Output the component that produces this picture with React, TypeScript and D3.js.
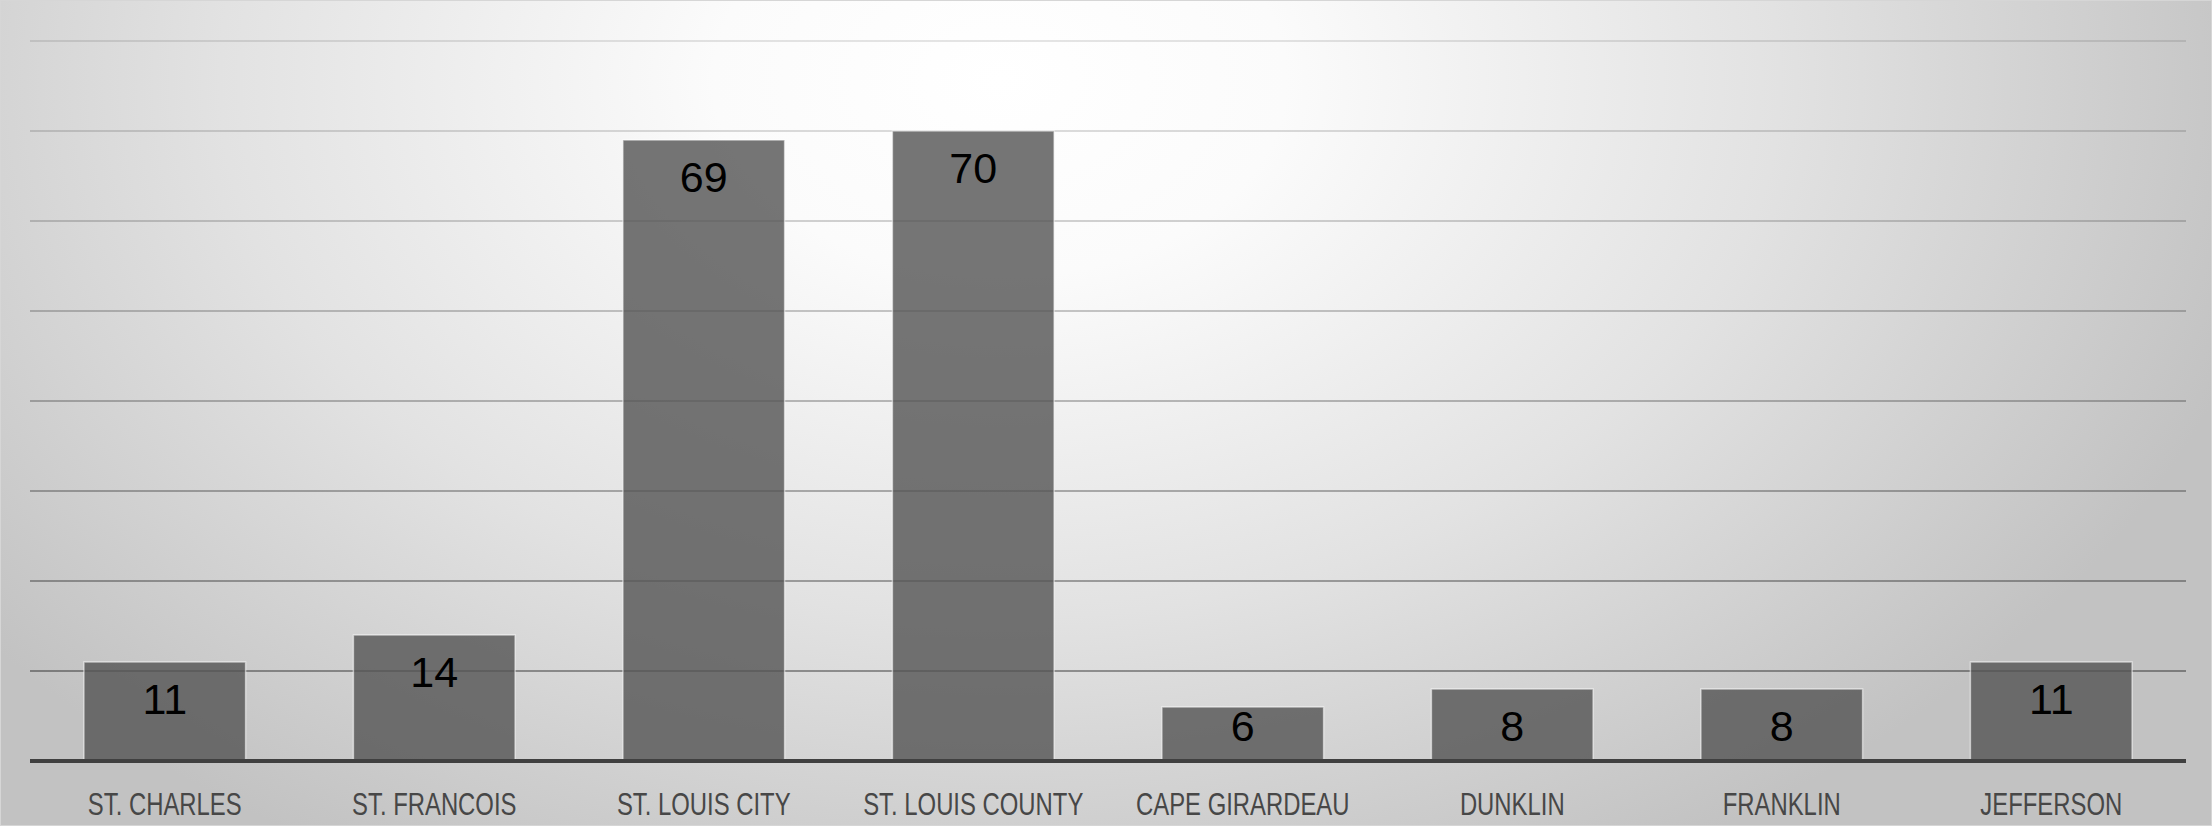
import React from "react";
import * as d3 from "d3";

const categories = [
  "ST. CHARLES",
  "ST. FRANCOIS",
  "ST. LOUIS CITY",
  "ST. LOUIS COUNTY",
  "CAPE GIRARDEAU",
  "DUNKLIN",
  "FRANKLIN",
  "JEFFERSON",
];
const values = [11, 14, 69, 70, 6, 8, 8, 11];
const gridTicks = [10, 20, 30, 40, 50, 60, 70, 80];

const W = 2212;
const H = 826;
const margin = { left: 30, right: 26, top: 41, bottom: 65 };

export default function App() {
  const x = d3
    .scaleBand<string>()
    .domain(categories)
    .range([margin.left, W - margin.right])
    .paddingInner(0.4)
    .paddingOuter(0.2);
  const y = d3
    .scaleLinear()
    .domain([0, 80])
    .range([H - margin.bottom, margin.top]);
  const gridAlpha = d3.scaleLinear().domain([80, 10]).range([0.1, 0.36]);
  const base = y(0);

  return (
    <svg
      width={W}
      height={H}
      style={{ position: "absolute", left: 0, top: 0, display: "block" }}
      fontFamily="'Liberation Sans', Arial, sans-serif"
    >
      <defs>
        <radialGradient
          id="bg"
          gradientUnits="userSpaceOnUse"
          cx={1000}
          cy={80}
          r={1300}
          gradientTransform="translate(1000,80) scale(1,0.69) translate(-1000,-80)"
        >
          <stop offset="0" stopColor="#ffffff" />
          <stop offset="0.22" stopColor="#fbfbfb" />
          <stop offset="0.6" stopColor="#e2e2e2" />
          <stop offset="1" stopColor="#c2c2c2" />
        </radialGradient>
      </defs>
      <rect x={0} y={0} width={W} height={H} fill="url(#bg)" />
      <rect
        x={0.5}
        y={0.5}
        width={W - 1}
        height={H - 1}
        fill="none"
        stroke="#d6d6d6"
        strokeWidth={1}
      />
      {gridTicks.map((t) => (
        <line
          key={t}
          x1={margin.left}
          x2={W - margin.right}
          y1={y(t)}
          y2={y(t)}
          stroke="#000"
          strokeOpacity={gridAlpha(t)}
          strokeWidth={2}
        />
      ))}
      {categories.map((c, i) => (
        <rect
          key={c}
          x={x(c)!}
          y={y(values[i])}
          width={x.bandwidth()}
          height={base - y(values[i])}
          fill="#555555"
          fillOpacity={0.81}
          stroke="#ffffff"
          strokeOpacity={0.55}
          strokeWidth={1.5}
        />
      ))}
      <line
        x1={margin.left}
        x2={W - margin.right}
        y1={base}
        y2={base}
        stroke="#404040"
        strokeWidth={4}
      />
      {categories.map((c, i) => {
        const cx = x(c)! + x.bandwidth() / 2;
        const ly = Math.min(y(values[i]) + 52, base - 20);
        return (
          <text
            key={"v" + c}
            x={cx}
            y={ly}
            textAnchor="middle"
            fontSize={43}
            fill="#000"
          >
            {values[i]}
          </text>
        );
      })}
      {categories.map((c) => {
        const cx = x(c)! + x.bandwidth() / 2;
        return (
          <g key={"c" + c} transform={`translate(${cx},815) scale(0.77,1)`}>
            <text x={0} y={0} textAnchor="middle" fontSize={31} fill="#474747">
              {c}
            </text>
          </g>
        );
      })}
    </svg>
  );
}
